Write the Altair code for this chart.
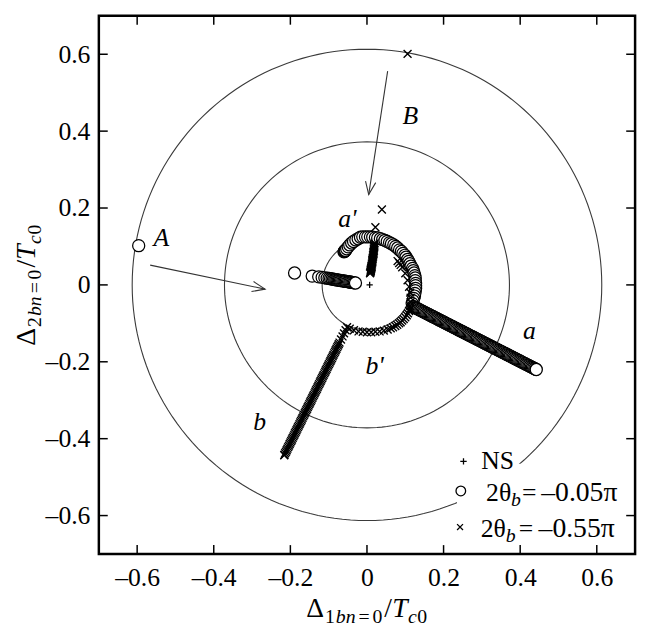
import altair as alt
import pandas as pd

FONT = "Liberation Serif"
W, H = 543, 545

# ---------------- data ----------------
tick_vals = [-0.6, -0.4, -0.2, 0.0, 0.2, 0.4, 0.6]
ring_r = [0.117, 0.372, 0.613]

ns_x = [0.007]
ns_y = [0.000]

# circles, run starting at A
c1_x = [-0.596, -0.189, -0.143, -0.126, -0.117, -0.110, -0.104, -0.099, -0.095, -0.091,
        -0.087, -0.084, -0.081, -0.078, -0.075, -0.072, -0.069, -0.066, -0.063, -0.060,
        -0.057, -0.054, -0.051, -0.048, -0.045, -0.042, -0.039, -0.036, -0.033, -0.030]
c1_y = [0.102, 0.031, 0.023, 0.021, 0.0195, 0.0185, 0.0175, 0.0168, 0.016, 0.0153,
        0.0146, 0.014, 0.0135, 0.013, 0.0125, 0.012, 0.0115, 0.011, 0.0105, 0.010,
        0.0095, 0.009, 0.0085, 0.008, 0.0075, 0.007, 0.0065, 0.006, 0.0055, 0.005]

# circles, arc a'
c2_x = [-0.060, -0.059, -0.058, -0.057, -0.056, -0.053, -0.049, -0.045, -0.040, -0.035,
        -0.029, -0.023,
        -0.017, -0.011, -0.004, 0.002, 0.009, 0.015, 0.022, 0.028, 0.035, 0.041, 0.047,
        0.053, 0.059, 0.064, 0.070, 0.075, 0.080, 0.085, 0.090, 0.094, 0.099, 0.102,
        0.106, 0.109, 0.112, 0.115, 0.119, 0.121, 0.123, 0.125, 0.126, 0.126, 0.127,
        0.127, 0.127, 0.126, 0.125, 0.124, 0.122, 0.120, 0.118]
c2_y = [0.086, 0.087, 0.088, 0.089, 0.090, 0.094, 0.099, 0.104, 0.109, 0.113,
        0.117, 0.120,
        0.124, 0.125, 0.125, 0.125, 0.125, 0.124, 0.123, 0.122, 0.120, 0.118, 0.116,
        0.113, 0.110, 0.107, 0.104, 0.100, 0.096, 0.091, 0.087, 0.082, 0.077, 0.072,
        0.066, 0.061, 0.055, 0.049, 0.043, 0.037, 0.031, 0.024, 0.018, 0.011, 0.004,
        -0.002, -0.009, -0.015, -0.022, -0.029, -0.035, -0.041, -0.048]

# circles, line a (continues the arc)
c3_x = [0.120, 0.123, 0.126, 0.129, 0.132, 0.135, 0.138, 0.141, 0.144, 0.147,
        0.150, 0.153, 0.156, 0.159, 0.162, 0.165, 0.168, 0.171, 0.174, 0.177,
        0.180, 0.183, 0.186, 0.189, 0.192, 0.195, 0.198, 0.201, 0.204, 0.207,
        0.210, 0.213, 0.216, 0.219, 0.222, 0.225, 0.228, 0.231, 0.234, 0.237,
        0.240, 0.243, 0.246, 0.249, 0.252, 0.255, 0.258, 0.261, 0.264, 0.267,
        0.270, 0.273, 0.276, 0.279, 0.282, 0.285, 0.288, 0.291, 0.294, 0.297,
        0.300, 0.303, 0.306, 0.309, 0.312, 0.315, 0.318, 0.321, 0.324, 0.327,
        0.330, 0.333, 0.336, 0.339, 0.342, 0.345, 0.348, 0.351, 0.354, 0.357,
        0.360, 0.363, 0.366, 0.369, 0.372, 0.375, 0.378, 0.381, 0.384, 0.387,
        0.390, 0.393, 0.396, 0.399, 0.402, 0.405, 0.408, 0.411, 0.414, 0.417,
        0.420, 0.423, 0.426, 0.429, 0.432, 0.435, 0.438, 0.441, 0.442]
c3_y = [-0.0560, -0.0575, -0.0591, -0.0606, -0.0621, -0.0636, -0.0652, -0.0667, -0.0682, -0.0697,
        -0.0713, -0.0728, -0.0743, -0.0759, -0.0774, -0.0789, -0.0804, -0.0820, -0.0835, -0.0850,
        -0.0865, -0.0881, -0.0896, -0.0911, -0.0926, -0.0942, -0.0957, -0.0972, -0.0988, -0.1003,
        -0.1018, -0.1033, -0.1049, -0.1064, -0.1079, -0.1094, -0.1110, -0.1125, -0.1140, -0.1156,
        -0.1171, -0.1186, -0.1201, -0.1217, -0.1232, -0.1247, -0.1262, -0.1278, -0.1293, -0.1308,
        -0.1324, -0.1339, -0.1354, -0.1369, -0.1385, -0.1400, -0.1415, -0.1430, -0.1446, -0.1461,
        -0.1476, -0.1491, -0.1507, -0.1522, -0.1537, -0.1553, -0.1568, -0.1583, -0.1598, -0.1614,
        -0.1629, -0.1644, -0.1659, -0.1675, -0.1690, -0.1705, -0.1721, -0.1736, -0.1751, -0.1766,
        -0.1782, -0.1797, -0.1812, -0.1827, -0.1843, -0.1858, -0.1873, -0.1889, -0.1904, -0.1919,
        -0.1934, -0.1950, -0.1965, -0.1980, -0.1995, -0.2011, -0.2026, -0.2041, -0.2057, -0.2072,
        -0.2087, -0.2102, -0.2118, -0.2133, -0.2148, -0.2163, -0.2179, -0.2194, -0.2200]

# crosses, run starting at B
x1_x = [0.106, 0.039, 0.022, 0.020, 0.019, 0.019, 0.019, 0.018, 0.018, 0.018, 0.017, 0.017,
        0.017, 0.016, 0.016, 0.015, 0.015, 0.014, 0.014, 0.014, 0.013, 0.013, 0.012, 0.012,
        0.012, 0.011, 0.011, 0.010, 0.010, 0.010, 0.009, 0.009, 0.008]
x1_y = [0.601, 0.196, 0.150, 0.108, 0.104, 0.101, 0.098, 0.095, 0.092, 0.089, 0.086, 0.083,
        0.080, 0.077, 0.074, 0.071, 0.068, 0.065, 0.062, 0.059, 0.056, 0.053, 0.050, 0.048,
        0.046, 0.044, 0.042, 0.040, 0.038, 0.036, 0.034, 0.032, 0.030]

# crosses, arc b'
x2_x = [0.080, 0.084, 0.088, 0.092, 0.100, 0.106, 0.110, 0.113, 0.114, 0.114, 0.113,
        0.113, 0.110, 0.107, 0.104, 0.100, 0.096, 0.092, 0.088, 0.084, 0.079, 0.074,
        0.068, 0.062, 0.054, 0.044, 0.033, 0.022, 0.011, 0.000, -0.011, -0.022, -0.034,
        -0.045]
x2_y = [0.062, 0.057, 0.052, 0.046, 0.030, 0.012, -0.005, -0.020, -0.033, -0.045, -0.055,
        -0.062, -0.068, -0.074, -0.079, -0.084, -0.089, -0.093, -0.097, -0.100, -0.104, -0.107,
        -0.110, -0.113, -0.116, -0.119, -0.121, -0.122, -0.123, -0.123, -0.122, -0.121, -0.118,
        -0.114]

# crosses, line b (continues the arc)
x3_x = [-0.0520, -0.0559, -0.0599, -0.0638, -0.0678, -0.0717, -0.0737, -0.0756, -0.0776, -0.0796,
        -0.0816, -0.0835, -0.0855, -0.0875, -0.0894, -0.0914, -0.0934, -0.0953, -0.0973, -0.0993,
        -0.1013, -0.1032, -0.1052, -0.1072, -0.1091, -0.1111, -0.1131, -0.1151, -0.1170, -0.1190,
        -0.1210, -0.1229, -0.1249, -0.1269, -0.1288, -0.1308, -0.1328, -0.1348, -0.1367, -0.1387,
        -0.1407, -0.1426, -0.1446, -0.1466, -0.1486, -0.1505, -0.1525, -0.1545, -0.1564, -0.1584,
        -0.1604, -0.1623, -0.1643, -0.1663, -0.1683, -0.1702, -0.1722, -0.1742, -0.1761, -0.1781,
        -0.1801, -0.1821, -0.1840, -0.1860, -0.1880, -0.1899, -0.1919, -0.1939, -0.1958, -0.1978,
        -0.1998, -0.2018, -0.2037, -0.2057, -0.2077, -0.2096, -0.2116, -0.2136, -0.2155, -0.2160]
x3_y = [-0.110, -0.118, -0.126, -0.134, -0.142, -0.150, -0.154, -0.158, -0.162, -0.166,
        -0.170, -0.174, -0.178, -0.182, -0.186, -0.190, -0.194, -0.198, -0.202, -0.206,
        -0.210, -0.214, -0.218, -0.222, -0.226, -0.230, -0.234, -0.238, -0.242, -0.246,
        -0.250, -0.254, -0.258, -0.262, -0.266, -0.270, -0.274, -0.278, -0.282, -0.286,
        -0.290, -0.294, -0.298, -0.302, -0.306, -0.310, -0.314, -0.318, -0.322, -0.326,
        -0.330, -0.334, -0.338, -0.342, -0.346, -0.350, -0.354, -0.358, -0.362, -0.366,
        -0.370, -0.374, -0.378, -0.382, -0.386, -0.390, -0.394, -0.398, -0.402, -0.406,
        -0.410, -0.414, -0.418, -0.422, -0.426, -0.430, -0.434, -0.438, -0.442, -0.443]

# annotation letters
lab_text = ["A", "B", "a'", "a", "b'", "b"]
lab_x = [-0.537, 0.113, -0.051, 0.424, 0.020, -0.280]
lab_y = [0.122, 0.440, 0.172, -0.120, -0.212, -0.357]

# arrows: start and tip
arr_id = [1, 1, 2, 2]
arr_x = [-0.566, -0.266, 0.054, 0.0045]
arr_y = [0.0515, -0.011, 0.556, 0.235]

# legend
leg_mx = [0.252, 0.245, 0.243]
leg_my = [-0.459, -0.536, -0.630]
leg_ty = [-0.459, -0.541, -0.635]
leg_vals = ["–0.05π", "–0.55π"]

# ---------------- chart ----------------
xs = alt.Scale(domain=[-0.7, 0.7], nice=False, zero=False)
ys = alt.Scale(domain=[-0.7, 0.7], nice=False, zero=False)
lexpr = "datum.value == 0 ? '0' : (datum.value < 0 ? '–' : '') + format(abs(datum.value), '.1f')"
axis_common = dict(values=tick_vals, labelExpr=lexpr, ticks=False, domain=False, grid=False,
                   title=None, labelFont=FONT, labelFontSize=26, labelColor="black",
                   labelFlush=False, labelOverlap=False)
xaxis = alt.Axis(labelPadding=11, **axis_common)
yaxis = alt.Axis(labelPadding=9, **axis_common)


def X(f):
    return alt.X(f"{f}:Q", scale=xs, axis=xaxis)


def Y(f):
    return alt.Y(f"{f}:Q", scale=ys, axis=yaxis)


layers = []

# reference circles
for r in ring_r:
    layers.append(
        alt.Chart(alt.sequence(0, 362, 2, as_="t"))
        .transform_calculate(px=f"{r}*cos(datum.t*PI/180)", py=f"{r}*sin(datum.t*PI/180)")
        .mark_line(color="#3a3a3a", strokeWidth=1.1)
        .encode(x=X("px"), y=Y("py"), order="t:Q")
    )

# white legend background
bg = pd.DataFrame({"x": [0.235], "x2": [0.69], "y": [-0.465], "y2": [-0.69]})
layers.append(alt.Chart(bg).mark_rect(fill="white").encode(x=X("x"), x2="x2", y=Y("y"), y2="y2"))

# arrows
arr = pd.DataFrame({"id": arr_id, "x": arr_x, "y": arr_y, "o": [0, 1, 0, 1]})
layers.append(alt.Chart(arr).mark_line(color="#333", strokeWidth=1.1)
              .encode(x=X("x"), y=Y("y"), detail="id:N", order="o:Q"))
head = "M-0.4,1L0,0L0.4,1"
for i, ang in [(1, 101.7), (3, 188.6)]:
    tip = pd.DataFrame({"x": [arr_x[i]], "y": [arr_y[i]]})
    layers.append(alt.Chart(tip).mark_point(shape=head, filled=False, stroke="#333",
                                             strokeWidth=1.1, size=676, angle=ang, opacity=1)
                  .encode(x=X("x"), y=Y("y")))

circ_style = dict(shape="circle", filled=True, fill="white", stroke="black",
                  strokeWidth=1.25, size=150, opacity=1)
cross = "M-1,-1L1,1M1,-1L-1,1"
plus = "M-1,0L1,0M0,-1L0,1"
cross_style = dict(shape=cross, filled=False, stroke="black", strokeWidth=1.4, size=64, opacity=1)

for xx, yy in [(c1_x, c1_y), (c2_x + c3_x, c2_y + c3_y)]:
    d = pd.DataFrame({"x": xx, "y": yy})
    layers.append(alt.Chart(d).mark_point(**circ_style).encode(x=X("x"), y=Y("y")))
for xx, yy in [(x1_x, x1_y), (x2_x + x3_x, x2_y + x3_y)]:
    d = pd.DataFrame({"x": xx, "y": yy})
    layers.append(alt.Chart(d).mark_point(**cross_style).encode(x=X("x"), y=Y("y")))
d = pd.DataFrame({"x": ns_x, "y": ns_y})
layers.append(alt.Chart(d).mark_point(shape=plus, filled=False, stroke="black", strokeWidth=1.3,
                                       size=40, opacity=1).encode(x=X("x"), y=Y("y")))

# letters
labs = pd.DataFrame({"x": lab_x, "y": lab_y, "t": lab_text})
layers.append(alt.Chart(labs).mark_text(font=FONT, fontSize=26, fontStyle="italic",
                                         align="center", baseline="middle", color="black")
              .encode(x=X("x"), y=Y("y"), text="t:N"))

# legend markers
layers.append(alt.Chart(pd.DataFrame({"x": [leg_mx[0]], "y": [leg_my[0]]}))
              .mark_point(shape=plus, filled=False, stroke="black", strokeWidth=1.3, size=42, opacity=1)
              .encode(x=X("x"), y=Y("y")))
layers.append(alt.Chart(pd.DataFrame({"x": [leg_mx[1]], "y": [leg_my[1]]}))
              .mark_point(shape="circle", filled=True, fill="white", stroke="black",
                          strokeWidth=1.3, size=95, opacity=1).encode(x=X("x"), y=Y("y")))
layers.append(alt.Chart(pd.DataFrame({"x": [leg_mx[2]], "y": [leg_my[2]]}))
              .mark_point(shape=cross, filled=False, stroke="black", strokeWidth=1.3, size=36, opacity=1)
              .encode(x=X("x"), y=Y("y")))

# legend texts
main_txt = pd.DataFrame({
    "x": [0.2985, 0.311, 0.405, 0.297, 0.396],
    "y": [leg_ty[0], leg_ty[1], leg_ty[1], leg_ty[2], leg_ty[2]],
    "t": ["NS", "2θ", "=", "2θ", "="],
})
layers.append(alt.Chart(main_txt).mark_text(font=FONT, fontSize=26, align="left",
                                             baseline="middle", color="black")
              .encode(x=X("x"), y=Y("y"), text="t:N"))
val_txt = pd.DataFrame({"x": [0.455, 0.448], "y": [leg_ty[1], leg_ty[2]], "t": leg_vals})
layers.append(alt.Chart(val_txt).mark_text(font=FONT, fontSize=28, align="left",
                                            baseline="middle", color="black")
              .encode(x=X("x"), y=Y("y"), text="t:N"))
sub_txt = pd.DataFrame({"x": [0.376, 0.362], "y": [leg_ty[1], leg_ty[2]], "t": ["b", "b"]})
layers.append(alt.Chart(sub_txt).mark_text(font=FONT, fontSize=20, fontStyle="italic", align="left",
                                            baseline="middle", dy=7, color="black")
              .encode(x=X("x"), y=Y("y"), text="t:N"))

# inward ticks on all four sides
tk = pd.DataFrame({"v": tick_vals})
rs = dict(color="black", strokeWidth=1.5)
TL = 9
layers.append(alt.Chart(tk).mark_rule(**rs).encode(x=X("v"), y=alt.value(H), y2=alt.value(H - TL)))
layers.append(alt.Chart(tk).mark_rule(**rs).encode(x=X("v"), y=alt.value(0), y2=alt.value(TL)))
layers.append(alt.Chart(tk).mark_rule(**rs).encode(y=Y("v"), x=alt.value(0), x2=alt.value(TL)))
layers.append(alt.Chart(tk).mark_rule(**rs).encode(y=Y("v"), x=alt.value(W), x2=alt.value(W - TL)))

# axis titles built from pieces (subscripts)
MAIN, SUB = 28, 20
offs = [0, 19, 30, 53, 67, 79, 87, 103, 112.5]
total = 123


def title_pieces(first):
    txt = ["Δ", first, "bn", "=", "0", "/", "T", "c", "0"]
    sty = ["normal", "normal", "italic", "normal", "normal", "normal", "italic", "italic", "normal"]
    fs = [MAIN, SUB, SUB, SUB, SUB, MAIN, MAIN, SUB, SUB]
    return list(zip(txt, offs, sty, fs))


x0 = W / 2 - total / 2
for t, off, style, fs in title_pieces("1"):
    base = 609 if fs == MAIN else 615
    layers.append(alt.Chart(pd.DataFrame({"a": [0]})).mark_text(
        text=t, font=FONT, fontSize=fs, fontStyle=style, align="left", baseline="alphabetic",
        color="black").encode(x=alt.value(x0 + off), y=alt.value(base)))

y0 = H / 2 + total / 2
for t, off, style, fs in title_pieces("2"):
    base = -65 if fs == MAIN else -59
    layers.append(alt.Chart(pd.DataFrame({"a": [0]})).mark_text(
        text=t, font=FONT, fontSize=fs, fontStyle=style, align="left", baseline="alphabetic",
        angle=270, color="black").encode(x=alt.value(base), y=alt.value(y0 - off)))

chart = alt.layer(*layers).properties(
    width=W, height=H,
    autosize=alt.AutoSizeParams(type="none"),
    padding={"left": 92, "top": 4, "right": 7, "bottom": 69},
    background="white",
).configure_view(stroke="black", strokeWidth=2.5)

chart.save("out.html", embed_options={"renderer": "svg", "actions": False})
